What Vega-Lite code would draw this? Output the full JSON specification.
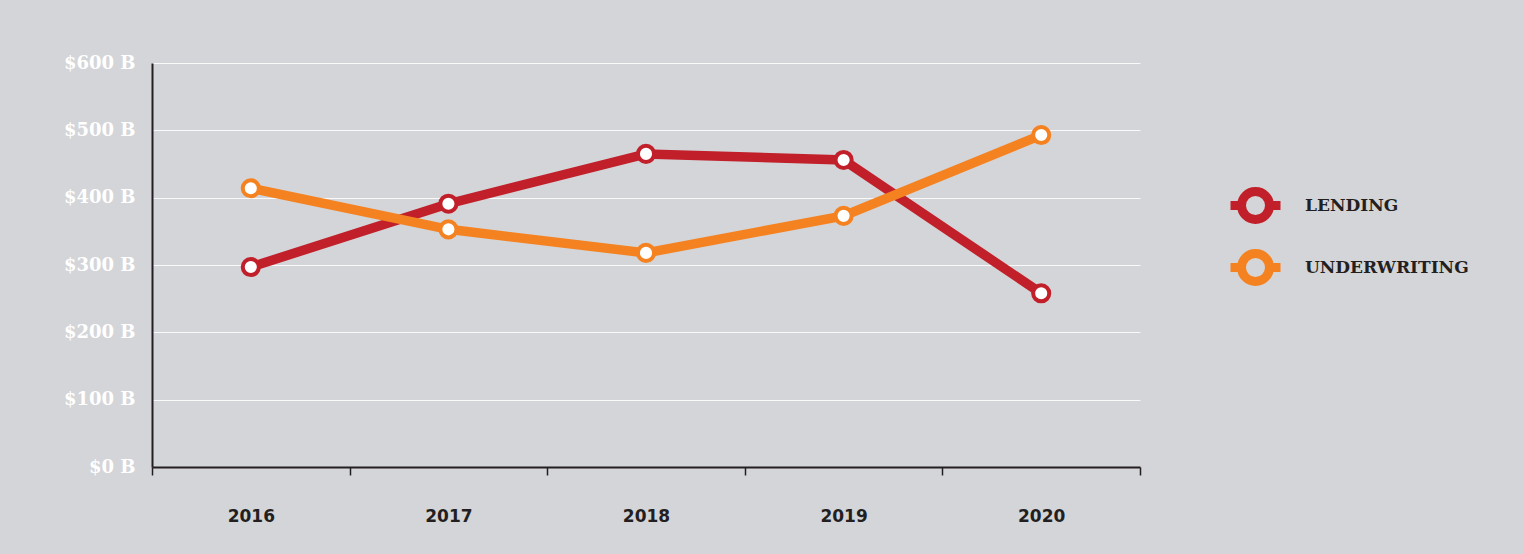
{
  "$schema": "https://vega.github.io/schema/vega-lite/v6.json",
  "width": 988,
  "height": 404,
  "autosize": {"type": "none"},
  "padding": {"left": 152, "top": 63, "right": 384, "bottom": 87},
  "background": "#d4d5d8",
  "config": {
    "view": {"stroke": null},
    "font": "DejaVu Sans"
  },
  "data": {
    "values": [
      {"year": "2016", "series": "LENDING", "value": 297},
      {"year": "2017", "series": "LENDING", "value": 391},
      {"year": "2018", "series": "LENDING", "value": 465},
      {"year": "2019", "series": "LENDING", "value": 456},
      {"year": "2020", "series": "LENDING", "value": 258},
      {"year": "2016", "series": "UNDERWRITING", "value": 414},
      {"year": "2017", "series": "UNDERWRITING", "value": 353},
      {"year": "2018", "series": "UNDERWRITING", "value": 318},
      {"year": "2019", "series": "UNDERWRITING", "value": 373},
      {"year": "2020", "series": "UNDERWRITING", "value": 493}
    ]
  },
  "encoding": {
    "x": {
      "field": "year",
      "type": "ordinal",
      "scale": {"paddingInner": 0, "paddingOuter": 0},
      "axis": {
        "title": null,
        "labelAngle": 0,
        "tickBand": "extent",
        "domainColor": "#231f20",
        "domainWidth": 2,
        "tickColor": "#231f20",
        "tickWidth": 1.5,
        "tickSize": 8,
        "labelPadding": 33,
        "labelFont": "DejaVu Sans",
        "labelFontWeight": "bold",
        "labelFontSize": 17,
        "labelColor": "#231f20",
        "grid": false
      }
    },
    "y": {
      "field": "value",
      "type": "quantitative",
      "scale": {"domain": [0, 600], "nice": false},
      "axis": {
        "title": null,
        "values": [0, 100, 200, 300, 400, 500, 600],
        "labelExpr": "'$' + datum.value + ' B'",
        "ticks": false,
        "labelPadding": 17,
        "labelFont": "DejaVu Serif",
        "labelFontWeight": "bold",
        "labelFontSize": 18,
        "labelColor": "#ffffff",
        "domainColor": "#231f20",
        "domainWidth": 2,
        "grid": true,
        "gridColor": "#ffffff",
        "gridOpacity": 0.85,
        "gridWidth": 1.2
      }
    }
  },
  "layer": [
    {
      "mark": {"type": "line", "strokeWidth": 9.5},
      "encoding": {
        "color": {
          "field": "series",
          "type": "nominal",
          "scale": {"domain": ["LENDING", "UNDERWRITING"], "range": ["#c1202a", "#f58220"]},
          "legend": {
            "title": null,
            "orient": "none",
            "legendX": 1074,
            "legendY": 113,
            "symbolType": "M-1,0L-0.56,0M0.56,0L1,0M-0.56,0A0.56,0.56 0 1,1 0.56,0A0.56,0.56 0 1,1 -0.56,0",
            "symbolSize": 2500,
            "symbolStrokeWidth": 9,
            "labelFont": "DejaVu Serif",
            "labelFontWeight": "bold",
            "labelFontSize": 17,
            "labelColor": "#231f20",
            "labelOffset": 20,
            "labelLimit": 400,
            "rowPadding": -3,
            "encode": {"symbols": {"update": {"fill": {"value": "transparent"}}}}
          }
        }
      }
    },
    {
      "mark": {"type": "point", "filled": false, "fill": "#ffffff", "fillOpacity": 1, "opacity": 1, "strokeWidth": 4, "size": 260},
      "encoding": {
        "stroke": {
          "field": "series",
          "type": "nominal",
          "scale": {"domain": ["LENDING", "UNDERWRITING"], "range": ["#c1202a", "#f58220"]},
          "legend": null
        }
      }
    }
  ]
}
